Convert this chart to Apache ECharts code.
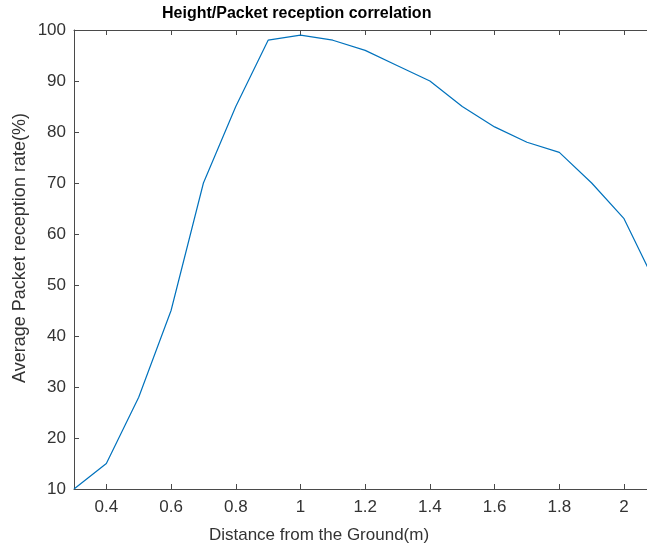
<!DOCTYPE html>
<html>
<head>
<meta charset="utf-8">
<script src="https://cdn.jsdelivr.net/npm/echarts@6/dist/echarts.min.js"></script>
<style>
  html, body { margin: 0; padding: 0; background: #fff; }
  #chart { width: 647px; height: 547px; }
</style>
</head>
<body>
<div id="chart"></div>
<script>
// ──── data ────
const distances = [0.3, 0.4, 0.5, 0.6, 0.7, 0.8, 0.9, 1.0, 1.1, 1.2, 1.3, 1.4, 1.5, 1.6, 1.7, 1.8, 1.9, 2.0, 2.1];
const reception = [10, 15, 28, 45, 70, 85, 98, 99, 98, 96, 93, 90, 85, 81, 78, 76, 70, 63, 50];
const xTicks = [0.4, 0.6, 0.8, 1.0, 1.2, 1.4, 1.6, 1.8, 2.0];

const FONT = 'Liberation Sans, Arial, sans-serif';
const AXIS_COLOR = '#4a4a4a';
const TEXT_COLOR = '#333';

const chart = echarts.init(document.getElementById('chart'), null, { renderer: 'canvas' });

const axisLine = { show: true, onZero: false, lineStyle: { color: AXIS_COLOR, width: 1 } };
const tick = { show: true, inside: true, length: 5, lineStyle: { color: AXIS_COLOR } };

// the reference axes run past the right edge of the picture, so x stops at ~2.07
chart.setOption({
    animation: false,
    grid: { left: 74, right: 0, top: 30, bottom: 58 },
    xAxis: [{
        type: 'value',
        min: 0.3,
        max: 2.071,
        axisLine,
        axisTick: { ...tick, customValues: xTicks },
        axisLabel: {
            customValues: xTicks,
            fontFamily: FONT, fontSize: 17, color: TEXT_COLOR, margin: 10,
            formatter: v => String(Math.round(v * 10) / 10),
        },
        splitLine: { show: false },
    }, {
        type: 'value',
        position: 'top',
        min: 0.3,
        max: 2.071,
        axisLine,
        axisTick: { ...tick, customValues: xTicks },
        axisLabel: { show: false },
        splitLine: { show: false },
    }],
    yAxis: {
        type: 'value',
        min: 10,
        max: 100,
        interval: 10,
        axisLine,
        axisTick: tick,
        axisLabel: { fontFamily: FONT, fontSize: 17, color: TEXT_COLOR, margin: 8 },
        splitLine: { show: false },
    },
    graphic: [{
        type: 'text',
        left: 162, top: 6,
        style: { text: 'Height/Packet reception correlation', font: `bold 16px ${FONT}`, fill: '#000' },
    }, {
        type: 'text',
        x: 319, y: 535,
        style: {
            text: 'Distance from the Ground(m)', font: `17px ${FONT}`, fill: TEXT_COLOR,
            align: 'center', verticalAlign: 'middle',
        },
    }, {
        type: 'text',
        x: 20, y: 248,
        rotation: Math.PI / 2,
        style: {
            text: 'Average Packet reception rate(%)', font: `18px ${FONT}`, fill: TEXT_COLOR,
            align: 'center', verticalAlign: 'middle',
        },
    }],
    series: [{
        type: 'line',
        data: distances.map((d, i) => [d, reception[i]]),
        showSymbol: false,
        clip: true,
        lineStyle: { color: '#0072BD', width: 1.2 },
    }],
});
</script>
</body>
</html>
